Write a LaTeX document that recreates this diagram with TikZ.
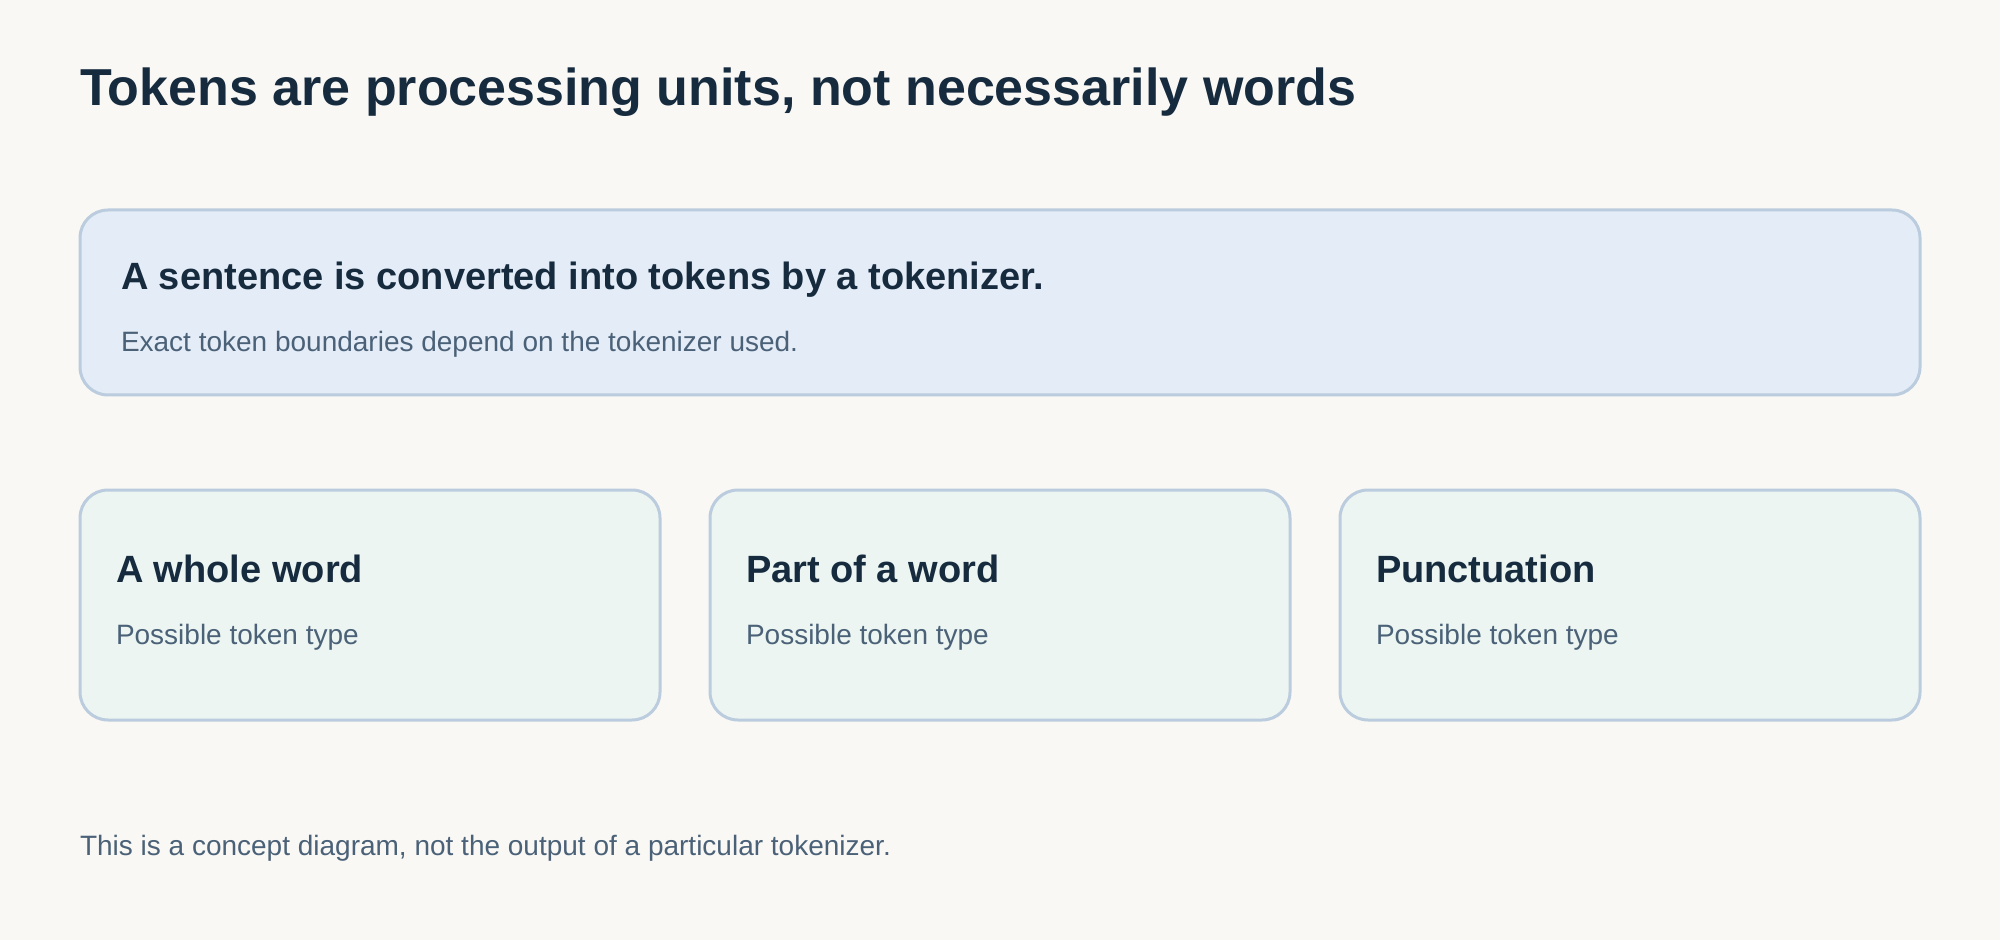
\documentclass[tikz,border=0pt]{standalone}
\usepackage{fontspec}
\setmainfont{Liberation Sans}

\definecolor{pagebg}{HTML}{F9F8F5}
\definecolor{inkdark}{HTML}{172B3F}
\definecolor{inksoft}{HTML}{4A6177}
\definecolor{edgeblue}{HTML}{BACCDD}
\definecolor{fillblue}{HTML}{E4ECF7}
\definecolor{fillmint}{HTML}{ECF5F2}

\tikzset{
    card/.style={draw=edgeblue, line width=1.5pt, rounded corners=14pt},
    txt/.style={anchor=base west, inner sep=0pt, outer sep=0pt},
    headtxt/.style={txt, text=inkdark, font=\fontsize{19}{22}\selectfont\bfseries},
    subtxt/.style={txt, text=inksoft, font=\fontsize{14}{17}\selectfont}
}

\begin{document}
\begin{tikzpicture}[x=0.5pt, y=-0.5pt]
        \fill[pagebg] (0, 0) rectangle (2000, 940);

        \node[txt, text=inkdark, font=\fontsize{26}{30}\selectfont\bfseries] (title) at (80, 106)
            {Tokens are processing units, not necessarily words};

        \draw[card, fill=fillblue] (80, 210) rectangle (1920, 395);
        \node[headtxt] (sentence) at (121, 290) {A sentence is converted into tokens by a tokenizer.};
        \node[subtxt] (boundaries) at (121, 352) {Exact token boundaries depend on the tokenizer used.};

        \foreach \x/\lbl/\nm in {80/A whole word/whole, 710/Part of a word/part, 1340/Punctuation/punct} {
            \draw[card, fill=fillmint] (\x, 490) rectangle (\x+580, 720);
            \node[headtxt] (\nm) at (\x+36, 582) {\lbl};
            \node[subtxt] (\nm-type) at (\x+36, 644) {Possible token type};
        }

        \node[subtxt] (note) at (80, 855) {This is a concept diagram, not the output of a particular tokenizer.};
    \end{tikzpicture}
\end{document}
